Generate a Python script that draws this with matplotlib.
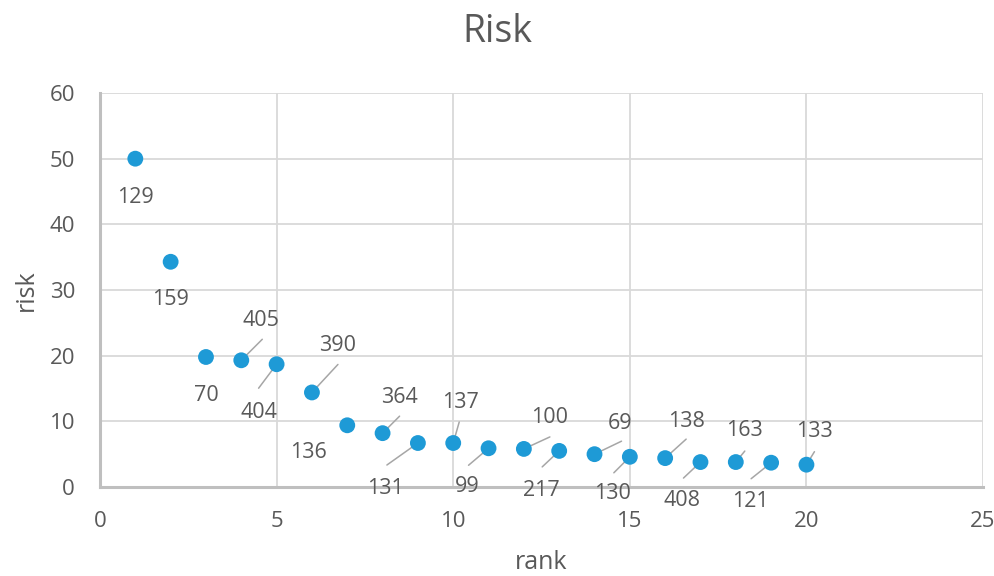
"""Excel-style scatter of risk by rank with point labels."""

import matplotlib
matplotlib.use("Agg")
import matplotlib.pyplot as plt

rank = list(range(1, 21))
risk = [50.0, 34.3, 19.8, 19.3, 18.7, 14.4, 9.4, 8.2, 6.7, 6.7,
        5.9, 5.8, 5.5, 5.0, 4.6, 4.4, 3.8, 3.8, 3.7, 3.4]
point_ids = ["129", "159", "70", "405", "404", "390", "136", "364", "131", "137",
             "99", "100", "217", "69", "130", "138", "408", "163", "121", "133"]

# label placement (pixels from point) and leader line start (None = no leader)
label_offsets = [(0, -39), (0, -38), (0, -39), (20, 40), (-18, -48), (26, 47),
                 (-39, -27), (17, 36), (-32, -45), (7, 41), (-21, -38), (26, 31),
                 (-18, -40), (26, 31), (-17, -37), (21, 37), (-18, -38), (9, 32),
                 (-21, -39), (8, 33)]
leader_starts = [None, None, None, (21, 21), (-18, -24), (26, 28), None, (17, 17),
                 (-31, -22), (6, 21), (-20, -17), (26, 12), (-17, -16), (27, 13),
                 (-16, -16), (21, 19), (-17, -16), (9, 11), (-20, -16), (8, 13)]

TEXT = "#595959"
BLUE = "#1e9ad6"
FONT = "Open Sans"

plt.rcParams["font.family"] = [FONT, "DejaVu Sans"]

fig = plt.figure(figsize=(9.95, 5.76), dpi=100)
ax = fig.add_axes([0.1005, 0.1545, 0.8875, 0.684])

ax.grid(True, color="#d9d9d9", linewidth=1.3, zorder=0)
ax.set_axisbelow(True)

for x, y, lead in zip(rank, risk, leader_starts):
    if lead is not None:
        ax.annotate("", xy=(x, y), xytext=lead, textcoords="offset pixels",
                    arrowprops=dict(arrowstyle="-", color="#a6a6a6", lw=1.1,
                                    shrinkA=0, shrinkB=0), zorder=2)

ax.scatter(rank, risk, s=130, color=BLUE, edgecolors="none", zorder=3)

for x, y, lab, off in zip(rank, risk, point_ids, label_offsets):
    ax.annotate(lab, xy=(x, y), xytext=off, textcoords="offset pixels",
                ha="center", va="center", fontsize=15.5, color=TEXT, zorder=4)

ax.set_xlim(0, 25)
ax.set_ylim(0, 60)
ax.set_xticks([0, 5, 10, 15, 20, 25])
ax.set_yticks([0, 10, 20, 30, 40, 50, 60])

for side in ("top", "right"):
    ax.spines[side].set_visible(False)
for side in ("left", "bottom"):
    ax.spines[side].set_color("#bfbfbf")
    ax.spines[side].set_linewidth(2.2)

ax.tick_params(axis="both", length=0, labelsize=16, labelcolor=TEXT)
ax.tick_params(axis="x", pad=17)
ax.tick_params(axis="y", pad=18)

ax.set_xlabel("rank", fontsize=18, color=TEXT, labelpad=13)
ax.set_ylabel("risk", fontsize=18, color=TEXT, labelpad=8)
fig.text(0.4995, 0.945, "Risk", ha="center", va="center", fontsize=27, color=TEXT)

fig.savefig("out.png", dpi=100)
